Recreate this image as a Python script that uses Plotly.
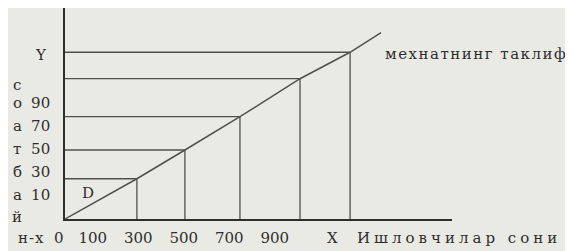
import plotly.graph_objects as go

# ---- data ----
supply_workers = [0, 316, 527, 769, 1033, 1253, 1389]
supply_wage = [0, 35, 60, 89, 122, 145, 162]
mark_workers = [316, 527, 769, 1033, 1253]
mark_wage = [35, 60, 89, 122, 145]

x_tick_vals = [100, 300, 500, 700, 900]
x_tick_text = ["100", "300", "500", "700", "900"]
y_tick_vals = [10, 30, 50, 70, 90]
y_tick_text = ["10", "30", "50", "70", "90"]
y_title_letters = ["с", "о", "а", "т", "б", "а", "й"]
y_title_letter_at = [105, 90, 70, 50, 30, 10, 0]

BG = "#eaeae5"
INK = "#2e2e2e"
LINE = "#505050"
FONT = "DejaVu Serif"

fig = go.Figure()

hx, hy = [], []
for w, p in zip(mark_workers, mark_wage):
    hx += [0, w, None, w, w, None]
    hy += [p, p, None, p, 0, None]
fig.add_trace(go.Scatter(x=hx, y=hy, mode="lines", line=dict(color=LINE, width=1.3),
                         hoverinfo="skip", showlegend=False, cliponaxis=False))
fig.add_trace(go.Scatter(x=supply_workers, y=supply_wage, mode="lines",
                         line=dict(color=LINE, width=1.5), showlegend=False, cliponaxis=False))

tf = dict(family=FONT, size=15, color=INK)
ann = []
ann.append(dict(x=0, y=mark_wage[-1], text="Y", xanchor="right", xshift=-16, yshift=-3))
ann.append(dict(x=101, y=22.6, text="D", xanchor="center"))
ann.append(dict(x=1398, y=143.5, text='<span style="letter-spacing:1.5px">мехнатнинг таклифи</span>', xanchor="left"))
ann.append(dict(x=1174, y=0, text="X", xanchor="center", yshift=-19))
ann.append(dict(x=1275, y=0, text='<span style="letter-spacing:4px">Ишловчилар сони</span>', xanchor="left", yshift=-19))
ann.append(dict(x=0, y=0, text='<span style="letter-spacing:1px">н-х</span>\u00a0\u00a00', xanchor="right", xshift=1, yshift=-19))
for i, (ch, yy) in enumerate(zip(y_title_letters, y_title_letter_at)):
    ann.append(dict(x=0, y=yy, text=ch, xanchor="center", xshift=-48,
                    yshift=13 if i < len(y_title_letters) - 1 else 2))
for a in ann:
    a.update(xref="x", yref="y", showarrow=False, font=tf, yanchor="middle")

# page body has an 8px default margin: size the figure to fill the rest of the window
fig.update_layout(
    width=565, height=243, autosize=False,
    margin=dict(l=57, r=121, t=0, b=32, pad=0),
    paper_bgcolor=BG, plot_bgcolor=BG,
    annotations=ann,
    xaxis=dict(range=[0, 1701], showline=True, linecolor=INK, linewidth=1.6, automargin=False,
               showgrid=False, zeroline=False, ticks="", tickvals=x_tick_vals,
               ticktext=x_tick_text, tickfont=tf, ticklabelshift=5, ticklabelstandoff=4),
    yaxis=dict(range=[0, 183.5], showline=True, linecolor=INK, linewidth=1.6, automargin=False,
               showgrid=False, zeroline=False, ticks="", tickvals=y_tick_vals,
               ticktext=y_tick_text, tickfont=tf, ticklabelshift=-13, ticklabelstandoff=10),
)

fig.write_html("out.html")
